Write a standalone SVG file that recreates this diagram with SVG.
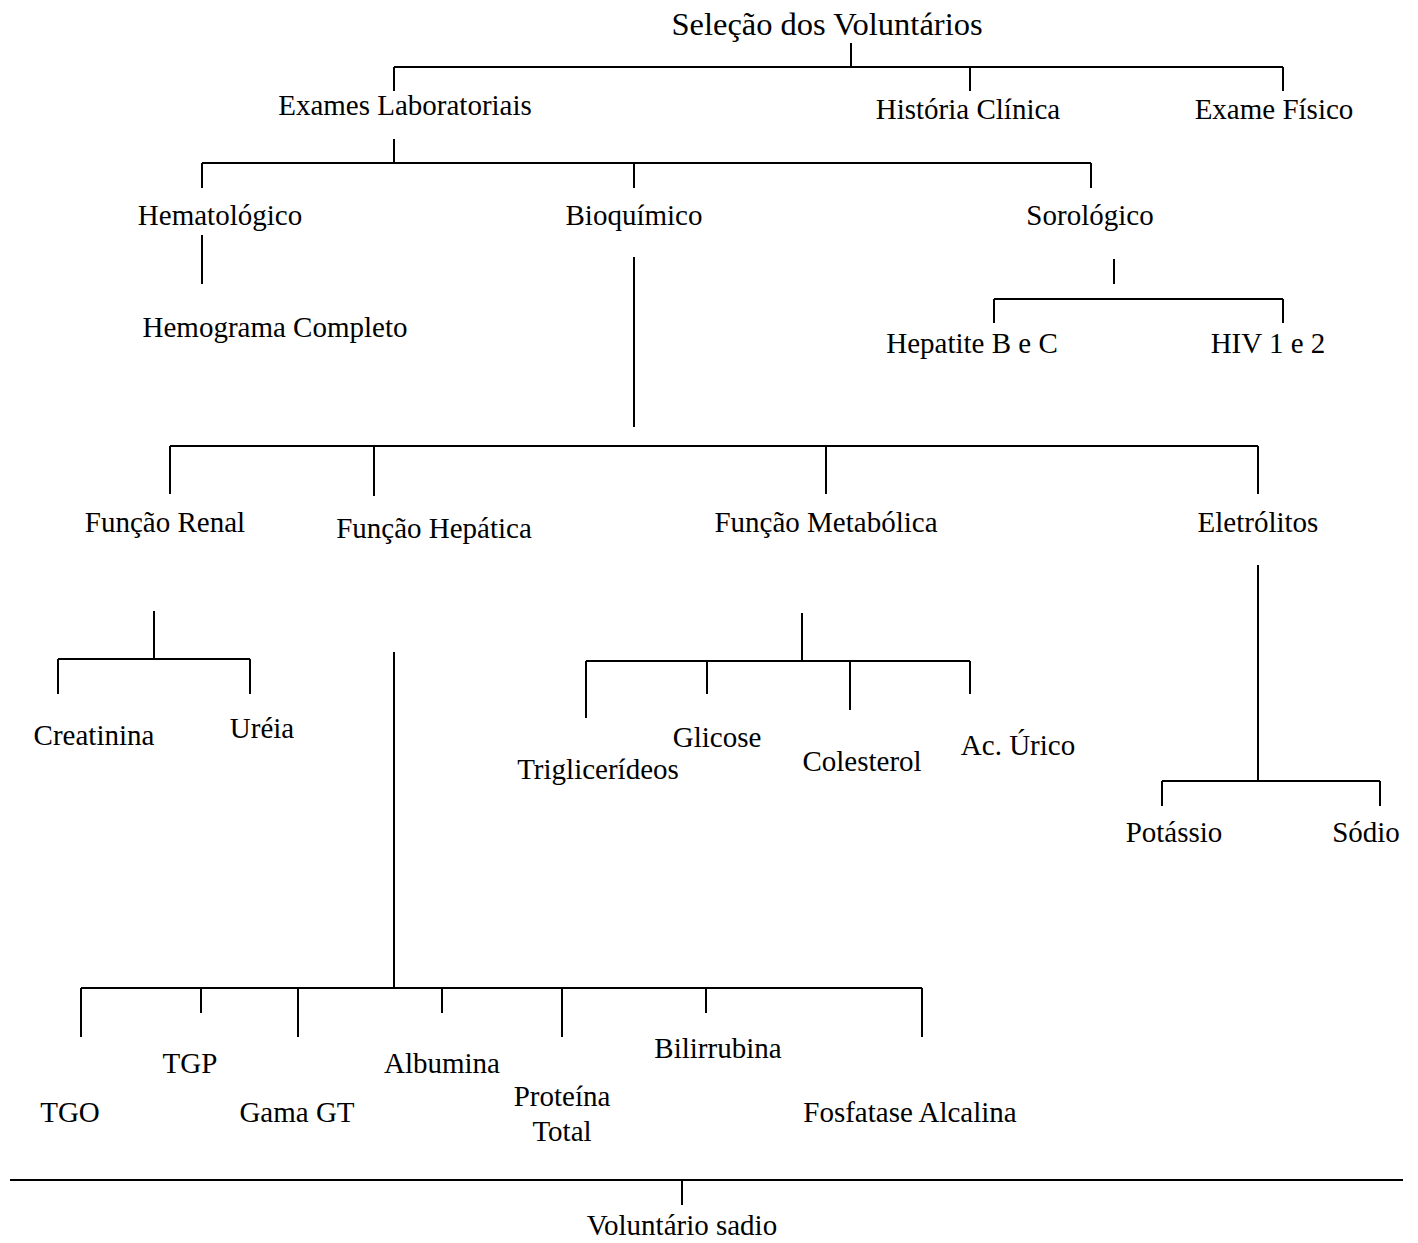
<svg xmlns="http://www.w3.org/2000/svg" width="1418" height="1243" viewBox="0 0 1418 1243">
<style>
text{font-family:"Liberation Serif","Times New Roman",serif;font-size:29px;fill:#000;text-anchor:middle}
.title{font-size:32.5px}
#connectors path{stroke:#000;stroke-width:2;fill:none}
</style>
<rect width="1418" height="1243" fill="#fff"/>
<g id="connectors">
<path d="M851 43V67M394 67H1283M394 67V91M970 67V91M1283 67V91"/>
<path d="M394 139V163M202 163H1091M202 163V188M634 163V188M1091 163V188"/>
<path d="M202 235V284"/>
<path d="M1114 259V284M994 299H1283M994 299V323M1283 299V323"/>
<path d="M634 257V427M170 446H1258M170 446V494M374 446V496M826 446V494M1258 446V494"/>
<path d="M154 611V659M58 659H250M58 659V694M250 659V694"/>
<path d="M802 613V661M586 661H970M586 661V718M707 661V694M850 661V710M970 661V694"/>
<path d="M1258 565V781M1162 781H1380M1162 781V806M1380 781V806"/>
<path d="M394 652V988M81 988H922M81 988V1037M201 988V1013M298 988V1037M442 988V1013M562 988V1037M706 988V1013M922 988V1037"/>
<path d="M10 1180H1403M682 1180V1205"/>
</g>
<g id="n-selecao"><text class="title" x="827" y="35">Seleção dos Voluntários</text></g>
<g id="n-exames"><text x="405" y="115">Exames Laboratoriais</text></g>
<g id="n-historia"><text x="968" y="119">História Clínica</text></g>
<g id="n-fisico"><text x="1274" y="119">Exame Físico</text></g>
<g id="n-hemato"><text x="220" y="225">Hematológico</text></g>
<g id="n-bioq"><text x="634" y="225">Bioquímico</text></g>
<g id="n-soro"><text x="1090" y="225">Sorológico</text></g>
<g id="n-hemograma"><text x="275" y="337">Hemograma Completo</text></g>
<g id="n-hepatite"><text x="972" y="353">Hepatite B e C</text></g>
<g id="n-hiv"><text x="1268" y="353">HIV 1 e 2</text></g>
<g id="n-renal"><text x="165" y="532">Função Renal</text></g>
<g id="n-hepatica"><text x="434" y="538">Função Hepática</text></g>
<g id="n-metab"><text x="826" y="532">Função Metabólica</text></g>
<g id="n-eletro"><text x="1258" y="532">Eletrólitos</text></g>
<g id="n-creat"><text x="94" y="745">Creatinina</text></g>
<g id="n-ureia"><text x="262" y="738">Uréia</text></g>
<g id="n-trig"><text x="598" y="779">Triglicerídeos</text></g>
<g id="n-glic"><text x="717" y="747">Glicose</text></g>
<g id="n-colest"><text x="862" y="771">Colesterol</text></g>
<g id="n-acurico"><text x="1018" y="755">Ac. Úrico</text></g>
<g id="n-potassio"><text x="1174" y="842">Potássio</text></g>
<g id="n-sodio"><text x="1366" y="842">Sódio</text></g>
<g id="n-tgp"><text x="190" y="1073">TGP</text></g>
<g id="n-albumina"><text x="442" y="1073">Albumina</text></g>
<g id="n-bili"><text x="718" y="1058">Bilirrubina</text></g>
<g id="n-tgo"><text x="70" y="1122">TGO</text></g>
<g id="n-gama"><text x="297" y="1122">Gama GT</text></g>
<g id="n-proteina"><text x="562" y="1106">Proteína</text><text x="562" y="1141">Total</text></g>
<g id="n-fosfatase"><text x="910" y="1122">Fosfatase Alcalina</text></g>
<g id="n-sadio"><text x="682" y="1235">Voluntário sadio</text></g>
</svg>
